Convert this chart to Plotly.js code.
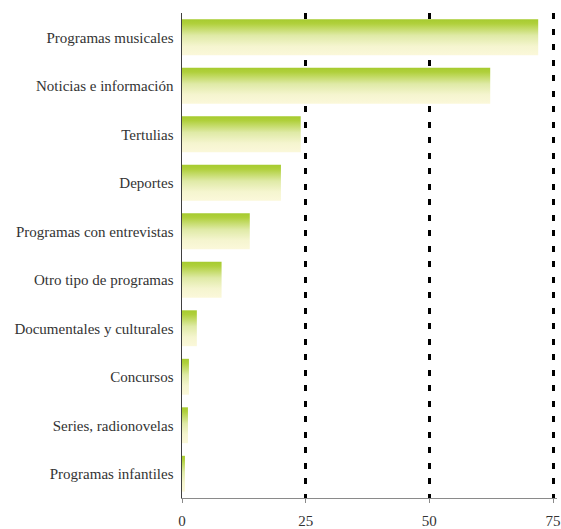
<!DOCTYPE html>
<html>
<head>
<meta charset="utf-8">
<script src="https://cdn.plot.ly/plotly-3.0.1.min.js"></script>
<style>html,body{margin:0;padding:0;background:#fff;}</style>
</head>
<body>
<div id="chart" style="width:561px;height:529px;"></div>
<script>
const categories = [
  "Programas musicales",
  "Noticias e información",
  "Tertulias",
  "Deportes",
  "Programas con entrevistas",
  "Otro tipo de programas",
  "Documentales y culturales",
  "Concursos",
  "Series, radionovelas",
  "Programas infantiles"
];
const values = [72.0, 62.3, 24.0, 20.0, 13.7, 8.0, 3.0, 1.4, 1.2, 0.6];
const tickVals = [0, 25, 50, 75];
const tickText = ["0", "25", "50", "75"];

const fontFam = "Liberation Serif";

const trace = {
  type: "bar",
  orientation: "h",
  x: values,
  y: categories,
  marker: { color: "#c8de6a", line: { width: 0 } },
  hoverinfo: "x+y"
};

const layout = {
  width: 561,
  height: 529,
  margin: { l: 182, r: 4, t: 13, b: 31 },
  paper_bgcolor: "#ffffff",
  plot_bgcolor: "#ffffff",
  showlegend: false,
  bargap: 0.26,
  font: { family: fontFam, size: 15, color: "#333333" },
  xaxis: {
    range: [0, 75.8],
    tickvals: tickVals,
    ticktext: tickText,
    showgrid: true,
    gridcolor: "#000000",
    gridwidth: 3,
    griddash: "6px,9.5px",
    zeroline: false,
    showline: true,
    linecolor: "#8a8a8a",
    linewidth: 1,
    ticks: "outside",
    ticklen: 4,
    tickcolor: "#8a8a8a",
    tickwidth: 1,
    ticklabelstandoff: 5,
    tickfont: { family: fontFam, size: 15, color: "#333333" },
    fixedrange: true
  },
  yaxis: {
    autorange: "reversed",
    showgrid: false,
    zeroline: false,
    showline: true,
    linecolor: "#404040",
    linewidth: 1.5,
    ticks: "",
    ticklabelstandoff: 4,
    tickfont: { family: fontFam, size: 15, color: "#333333" },
    fixedrange: true
  }
};

function applyGradient() {
  const gd = document.getElementById("chart");
  const svg = gd.querySelector("svg.main-svg");
  if (!svg) return;
  const ns = "http://www.w3.org/2000/svg";
  let defs = svg.querySelector("defs");
  if (!defs) { defs = document.createElementNS(ns, "defs"); svg.insertBefore(defs, svg.firstChild); }
  if (!svg.querySelector("#barGrad")) {
    const lg = document.createElementNS(ns, "linearGradient");
    lg.setAttribute("id", "barGrad");
    lg.setAttribute("x1", "0"); lg.setAttribute("y1", "0");
    lg.setAttribute("x2", "0"); lg.setAttribute("y2", "1");
    const stops = [["0", "#a6cb2f"], ["0.12", "#b0d03c"], ["0.45", "#dfeaa6"], ["0.75", "#f5f5cf"], ["1", "#fbf8da"]];
    stops.forEach(([o, c]) => {
      const s = document.createElementNS(ns, "stop");
      s.setAttribute("offset", o);
      s.setAttribute("stop-color", c);
      lg.appendChild(s);
    });
    defs.appendChild(lg);
  }
  gd.querySelectorAll(".bars .point path").forEach(p => {
    p.style.fill = "url(#barGrad)";
  });
}

Plotly.newPlot("chart", [trace], layout, { staticPlot: true, displayModeBar: false }).then(gd => {
  applyGradient();
  gd.on("plotly_afterplot", applyGradient);
});
</script>
</body>
</html>
